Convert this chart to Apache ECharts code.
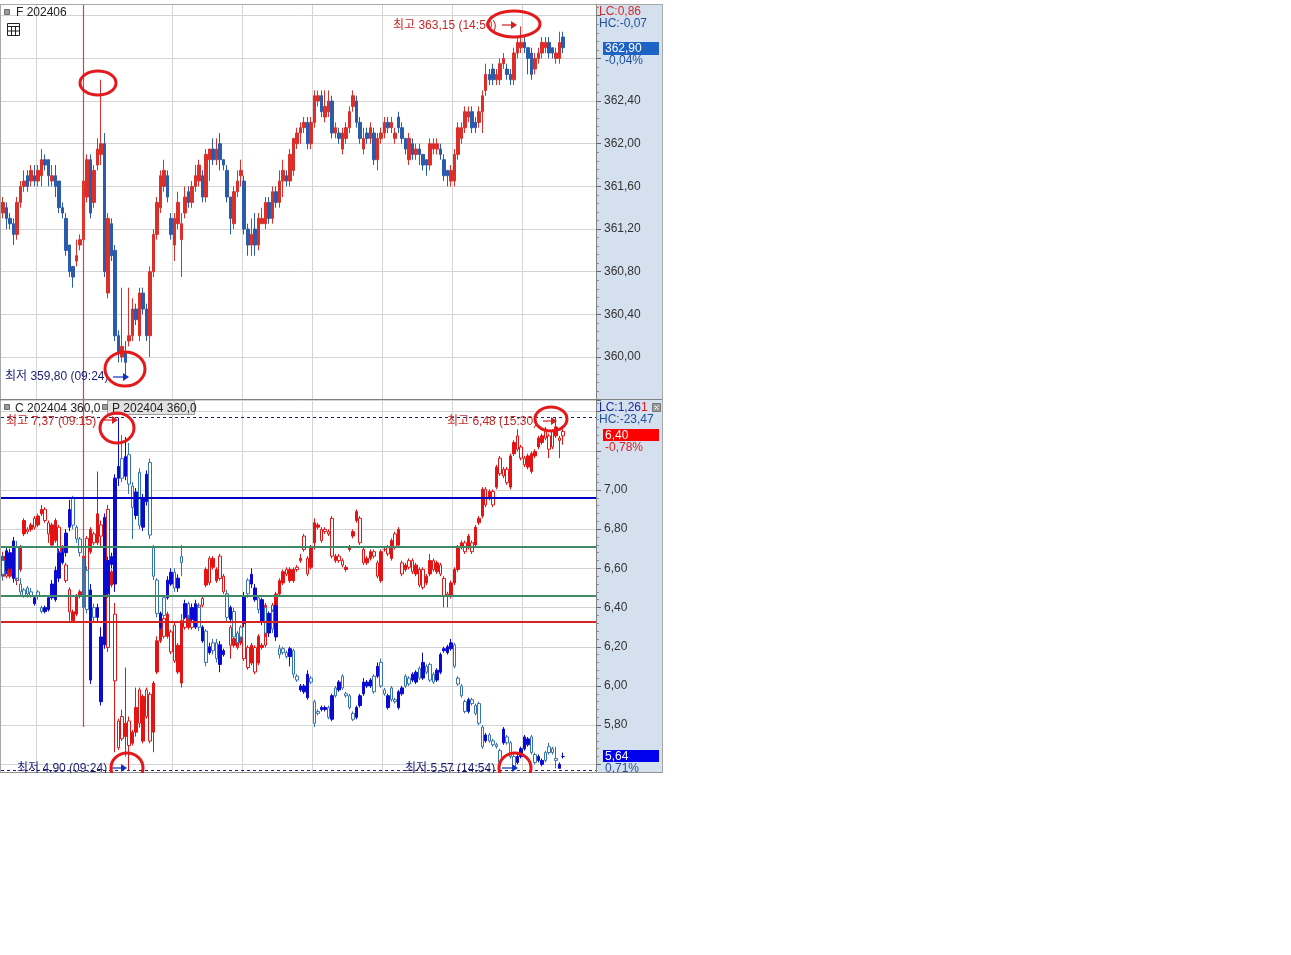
<!DOCTYPE html>
<html><head><meta charset="utf-8">
<script src="https://cdn.jsdelivr.net/npm/echarts@6/dist/echarts.min.js"></script>
<style>html,body{margin:0;padding:0;background:#fff}#c{width:1291px;height:955px}</style>
</head><body><div id="c"></div>
<script>
// ---- data: [open, close, low, high] ----
const futCandles = [
[361.35,361.45,361.30,361.50],[361.40,361.30,361.20,361.45],[361.30,361.25,361.20,361.35],[361.25,361.15,361.05,361.30],
[361.15,361.45,361.10,361.50],[361.45,361.60,361.40,361.65],[361.60,361.65,361.55,361.75],[361.70,361.60,361.55,361.75],
[361.65,361.75,361.60,361.80],[361.70,361.65,361.60,361.80],[361.65,361.75,361.60,361.80],[361.70,361.85,361.60,361.95],
[361.85,361.80,361.75,361.90],[361.85,361.70,361.60,361.85],[361.65,361.70,361.60,361.80],[361.70,361.60,361.50,361.80],
[361.65,361.40,361.35,361.65],[361.40,361.35,361.30,361.45],[361.30,361.00,360.95,361.35],[361.05,360.80,360.75,361.05],
[360.85,360.75,360.65,360.85],[360.90,360.95,360.85,361.10],[361.05,361.10,361.00,361.15],[361.10,361.65,361.05,361.70],
[361.50,361.85,361.45,361.90],[361.85,361.35,361.30,361.90],[361.45,361.75,361.40,361.80],[361.80,361.95,361.75,362.05],
[361.90,362.00,361.80,362.60],[362.00,360.80,360.75,362.10],[360.60,361.30,360.55,361.35],[361.25,360.95,360.90,361.30],
[361.00,360.20,360.15,361.05],[360.20,360.05,359.95,360.25],[360.00,360.10,359.95,360.65],[360.05,359.95,359.80,360.15],
[360.15,360.20,360.10,360.65],[360.20,360.45,360.15,360.55],[360.45,360.35,360.30,360.50],[360.20,360.60,360.15,360.65],
[360.60,360.45,360.40,360.65],[360.45,360.20,360.15,360.50],[360.20,360.80,360.00,360.85],[360.80,361.15,360.75,361.20],
[361.15,361.45,361.10,361.50],[361.40,361.70,361.35,361.75],[361.60,361.75,361.55,361.85],[361.70,361.50,361.45,361.75],
[361.30,361.15,361.10,361.35],[361.05,361.30,360.90,361.35],[361.25,361.45,361.20,361.55],[361.10,361.25,360.75,361.35],
[361.35,361.50,361.30,361.60],[361.55,361.45,361.40,361.60],[361.45,361.60,361.40,361.65],[361.60,361.70,361.55,361.80],
[361.65,361.80,361.60,361.85],[361.70,361.50,361.45,361.75],[361.50,361.90,361.45,361.95],[361.85,361.95,361.65,361.95],
[361.95,361.85,361.80,362.05],[361.85,361.95,361.80,362.05],[362.00,361.85,361.75,362.10],[361.85,361.80,361.75,361.85],
[361.75,361.50,361.45,361.80],[361.50,361.30,361.15,361.50],[361.25,361.55,361.20,361.60],[361.55,361.65,361.50,361.75],
[361.70,361.75,361.60,361.85],[361.65,361.20,361.15,361.70],[361.20,361.05,360.95,361.25],[361.05,361.15,360.95,361.30],
[361.20,361.05,360.95,361.35],[361.05,361.30,361.00,361.35],[361.25,361.30,361.25,361.40],[361.25,361.45,361.20,361.50],
[361.45,361.30,361.25,361.50],[361.30,361.55,361.25,361.60],[361.55,361.45,361.40,361.60],[361.45,361.65,361.40,361.75],
[361.65,361.75,361.50,361.85],[361.70,361.65,361.60,361.75],[361.65,361.90,361.60,361.95],[361.75,362.05,361.70,362.05],
[362.00,362.10,361.95,362.15],[362.10,362.15,362.00,362.20],[362.15,362.20,362.10,362.25],[362.20,362.00,361.95,362.25],
[362.00,362.20,361.95,362.25],[362.20,362.45,362.15,362.50],[362.40,362.45,362.35,362.50],[362.45,362.30,362.25,362.50],
[362.25,362.35,362.20,362.50],[362.30,362.40,362.25,362.50],[362.40,362.10,362.05,362.45],[362.10,362.15,362.05,362.20],
[362.10,362.05,362.00,362.15],[361.95,362.10,361.90,362.15],[362.05,362.15,362.00,362.20],[362.15,362.30,362.10,362.35],
[362.35,362.45,362.30,362.50],[362.40,362.20,362.15,362.45],[362.20,362.05,362.00,362.25],[361.95,362.05,361.90,362.15],
[362.10,362.05,362.00,362.15],[362.05,362.15,362.00,362.20],[362.10,361.85,361.80,362.15],[361.85,362.05,361.75,362.10],
[362.05,362.10,362.00,362.15],[362.10,362.20,362.05,362.25],[362.20,362.15,362.10,362.25],[362.15,362.20,362.10,362.25],
[362.05,362.10,362.00,362.15],[362.25,362.15,362.10,362.30],[362.15,362.05,362.00,362.20],[362.05,361.95,361.90,362.05],
[361.85,362.05,361.80,362.10],[362.00,361.90,361.85,362.05],[361.90,361.95,361.85,362.00],[361.95,361.90,361.80,362.00],
[361.90,361.80,361.75,361.90],[361.85,361.80,361.70,361.85],[361.80,362.00,361.75,362.05],[361.95,362.00,361.90,362.05],
[361.95,362.00,361.90,362.05],[361.95,361.90,361.85,362.00],[361.85,361.70,361.65,361.90],[361.75,361.70,361.60,361.75],
[361.65,361.75,361.60,361.80],[361.65,361.90,361.60,361.95],[361.90,362.15,361.85,362.20],[362.05,362.15,362.00,362.20],
[362.15,362.30,362.10,362.35],[362.25,362.30,362.20,362.35],[362.30,362.15,362.10,362.35],[362.20,362.15,362.10,362.25],
[362.20,362.30,362.15,362.35],[362.30,362.45,362.10,362.50],[362.50,362.65,362.45,362.75],[362.65,362.60,362.55,362.70],
[362.70,362.60,362.55,362.75],[362.60,362.65,362.55,362.70],[362.60,362.75,362.55,362.80],[362.75,362.80,362.70,362.85],
[362.70,362.65,362.60,362.75],[362.65,362.60,362.55,362.70],[362.60,362.85,362.55,362.90],[362.85,362.95,362.80,363.00],
[362.90,362.95,362.85,363.10],[362.95,362.90,362.85,363.00],[362.90,362.80,362.65,362.90],[362.85,362.65,362.60,362.90],
[362.70,362.80,362.65,362.85],[362.80,362.85,362.75,362.90],[362.85,362.95,362.80,363.00],[362.90,362.95,362.85,363.00],
[362.95,362.85,362.80,363.00],[362.90,362.85,362.80,362.90],[362.80,362.85,362.75,362.90],[362.80,362.95,362.75,363.05],
[363.00,362.90,362.85,363.05]
];
const callCandles = [
[5.77,5.86,5.75,5.88],[5.84,5.77,5.76,5.85],[5.77,5.82,5.76,5.83],[5.82,5.76,5.74,5.83],[5.76,5.75,5.73,5.77],
[5.80,5.90,5.79,5.91],[5.96,6.02,5.95,6.03],[5.98,5.97,5.96,5.99],[5.98,6.00,5.97,6.01],[6.03,5.99,5.98,6.04],
[6.00,6.04,5.99,6.05],[6.05,6.07,6.04,6.09],[6.07,6.02,6.01,6.08],[6.01,5.96,5.92,6.02],[5.91,6.00,5.90,6.01],
[5.93,6.02,5.92,6.03],[5.99,5.88,5.87,6.00],[5.85,5.90,5.84,5.91],[5.82,5.75,5.74,5.83],[5.71,5.61,5.57,5.72],
[5.57,5.61,5.56,5.62],[5.60,5.68,5.59,5.69],[5.68,5.70,5.67,5.71],[5.77,5.86,5.76,5.87],[5.94,5.75,5.74,5.95],
[5.88,5.98,5.87,5.99],[5.96,5.92,5.91,5.97],[5.92,6.05,5.91,6.24],[6.00,5.95,5.90,6.02],[5.95,5.90,5.85,5.97],
[6.07,5.45,5.43,6.09],[5.73,5.79,5.72,5.80],[5.60,5.30,4.98,5.65],[5.12,5.00,4.99,5.13],[5.14,5.04,5.03,5.17],
[5.05,5.11,4.96,5.36],[5.12,5.01,4.90,5.14],[5.02,5.07,5.01,5.08],[5.07,5.18,5.05,5.27],[5.26,5.11,5.09,5.27],
[5.03,5.23,5.02,5.24],[5.26,5.14,5.13,5.27],[5.24,5.03,5.02,5.25],[5.07,5.29,4.98,5.30],[5.34,5.48,5.33,5.50],
[5.48,5.58,5.47,5.59],[5.58,5.50,5.49,5.59],[5.50,5.60,5.49,5.61],[5.52,5.43,5.42,5.53],[5.55,5.39,5.38,5.56],
[5.34,5.46,5.33,5.47],[5.29,5.57,5.27,5.60],[5.60,5.54,5.53,5.61],[5.54,5.63,5.53,5.64],[5.62,5.54,5.53,5.63],
[5.55,5.62,5.54,5.63],[5.64,5.58,5.57,5.65],[5.67,5.64,5.63,5.68],[5.73,5.80,5.72,5.81],[5.85,5.74,5.73,5.86],
[5.81,5.85,5.80,5.86],[5.75,5.80,5.74,5.81],[5.86,5.76,5.75,5.87],[5.77,5.70,5.69,5.78],[5.69,5.60,5.59,5.70],
[5.54,5.46,5.40,5.55],[5.46,5.49,5.45,5.50],[5.50,5.45,5.44,5.51],[5.47,5.52,5.46,5.53],[5.56,5.40,5.39,5.57],
[5.45,5.36,5.35,5.46],[5.38,5.46,5.37,5.47],[5.45,5.34,5.33,5.46],[5.38,5.50,5.37,5.51],[5.45,5.46,5.44,5.47],
[5.64,5.46,5.45,5.65],[5.53,5.59,5.52,5.60],[5.64,5.54,5.53,5.65],[5.64,5.69,5.63,5.70],[5.69,5.75,5.68,5.76],
[5.74,5.79,5.73,5.80],[5.80,5.78,5.77,5.81],[5.75,5.80,5.74,5.81],[5.75,5.80,5.74,5.81],[5.81,5.80,5.79,5.82],
[5.84,5.85,5.83,5.87],[5.95,5.89,5.88,5.96],[5.85,5.78,5.77,5.86],[5.81,5.90,5.80,5.91],[5.92,6.01,5.89,6.03],
[5.99,6.00,5.98,6.01],[5.98,5.93,5.92,5.99],[5.98,5.97,5.96,5.99],[5.97,5.96,5.95,5.98],[6.03,5.86,5.85,6.04],
[5.84,5.86,5.83,5.87],[5.86,5.84,5.83,5.87],[5.84,5.82,5.81,5.85],[5.80,5.81,5.79,5.82],[5.89,5.90,5.88,5.91],
[5.95,5.97,5.94,5.98],[6.02,6.06,6.01,6.07],[6.03,5.92,5.91,6.04],[5.89,5.83,5.82,5.90],[5.83,5.85,5.82,5.86],
[5.85,5.88,5.84,5.89],[5.88,5.86,5.85,5.89],[5.83,5.77,5.76,5.84],[5.75,5.88,5.74,5.89],[5.89,5.89,5.88,5.90],
[5.90,5.87,5.86,5.91],[5.85,5.93,5.84,5.94],[5.96,5.90,5.89,5.97],[5.91,5.98,5.90,5.99],[5.83,5.78,5.77,5.84],
[5.80,5.82,5.79,5.83],[5.84,5.81,5.80,5.85],[5.84,5.79,5.78,5.85],[5.78,5.82,5.77,5.83],[5.80,5.73,5.72,5.81],
[5.80,5.72,5.71,5.81],[5.74,5.77,5.73,5.78],[5.78,5.84,5.77,5.87],[5.84,5.80,5.79,5.85],[5.79,5.83,5.78,5.84],
[5.82,5.78,5.77,5.83],[5.76,5.68,5.63,5.77],[5.69,5.68,5.63,5.70],[5.68,5.74,5.67,5.75],[5.74,5.80,5.73,5.81],
[5.80,5.90,5.79,5.91],[5.90,5.92,5.89,5.93],[5.92,5.88,5.87,5.93],[5.90,5.95,5.89,5.96],[5.92,5.88,5.87,5.93],
[5.91,5.99,5.90,6.00],[6.01,6.03,6.00,6.04],[6.04,6.16,6.03,6.17],[6.16,6.09,6.08,6.17],[6.12,6.15,6.11,6.16],
[6.15,6.09,6.08,6.16],[6.17,6.26,6.16,6.27],[6.30,6.23,6.22,6.31],[6.25,6.22,6.21,6.26],[6.25,6.19,6.18,6.26],
[6.17,6.31,6.16,6.32],[6.32,6.37,6.31,6.38],[6.40,6.34,6.33,6.43],[6.35,6.30,6.29,6.36],[6.30,6.27,6.26,6.31],
[6.26,6.31,6.25,6.32],[6.24,6.32,6.23,6.33],[6.31,6.33,6.30,6.34],[6.35,6.39,6.34,6.40],[6.37,6.40,6.36,6.41],
[6.43,6.39,6.38,6.44],[6.40,6.34,6.30,6.41],[6.42,6.35,6.34,6.43],[6.40,6.44,6.39,6.48],[6.39,6.38,6.30,6.40],
[6.42,6.40,6.36,6.43]
];
const putCandles = [
[6.64,6.57,6.54,6.67],[6.59,6.69,6.57,6.71],[6.60,6.68,6.58,6.70],[6.55,6.74,6.53,6.76],[6.71,6.55,6.53,6.74],
[6.52,6.48,6.46,6.55],[6.49,6.46,6.45,6.50],[6.50,6.47,6.45,6.51],[6.48,6.46,6.45,6.50],[6.42,6.45,6.41,6.46],
[6.48,6.46,6.44,6.49],[6.40,6.38,6.37,6.41],[6.38,6.40,6.37,6.41],[6.39,6.45,6.38,6.46],[6.45,6.52,6.44,6.54],
[6.44,6.59,6.43,6.61],[6.55,6.68,6.53,6.70],[6.63,6.68,6.62,6.70],[6.68,6.78,6.66,6.80],[6.81,6.90,6.79,6.95],
[6.96,6.82,6.80,6.97],[6.81,6.75,6.73,6.82],[6.75,6.68,6.66,6.76],[6.65,6.40,6.38,6.66],[6.59,6.39,6.37,6.61],
[6.03,6.49,6.01,6.52],[6.40,6.35,6.33,6.42],[6.35,6.40,6.33,6.42],[5.92,6.25,5.90,6.30],[6.21,6.86,6.19,6.88],
[6.47,6.64,6.45,6.66],[6.62,6.66,6.60,6.68],[6.52,7.06,6.48,7.08],[7.06,7.12,7.02,7.37],[7.16,7.06,7.04,7.28],
[7.07,7.17,7.05,7.27],[7.18,7.03,6.98,7.24],[7.02,6.91,6.75,7.04],[6.87,6.99,6.85,7.01],[7.09,6.82,6.80,7.11],
[6.81,6.96,6.79,6.98],[6.94,7.08,6.92,7.10],[7.14,6.77,6.75,7.16],[6.71,6.56,6.54,6.72],[6.54,6.37,6.35,6.55],
[6.30,6.37,6.29,6.38],[6.45,6.36,6.34,6.46],[6.45,6.54,6.44,6.56],[6.52,6.58,6.51,6.60],[6.58,6.50,6.48,6.60],
[6.50,6.55,6.48,6.57],[6.66,6.63,6.56,6.72],[6.35,6.42,6.34,6.44],[6.42,6.36,6.34,6.43],[6.34,6.40,6.33,6.42],
[6.30,6.42,6.29,6.44],[6.40,6.30,6.28,6.42],[6.23,6.30,6.22,6.31],[6.28,6.12,6.10,6.29],[6.17,6.20,6.16,6.22],
[6.22,6.18,6.16,6.24],[6.22,6.14,6.12,6.24],[6.11,6.21,6.07,6.23],[6.16,6.18,6.15,6.19],[6.47,6.35,6.33,6.49],
[6.34,6.40,6.32,6.41],[6.38,6.25,6.23,6.40],[6.27,6.22,6.20,6.28],[6.30,6.25,6.23,6.31],[6.32,6.46,6.30,6.48],
[6.54,6.47,6.45,6.55],[6.52,6.57,6.50,6.60],[6.44,6.50,6.43,6.52],[6.45,6.39,6.37,6.46],[6.33,6.44,6.31,6.45],
[6.40,6.27,6.25,6.41],[6.27,6.37,6.25,6.38],[6.38,6.29,6.27,6.39],[6.25,6.41,6.23,6.43],[6.19,6.16,6.14,6.21],
[6.19,6.17,6.16,6.20],[6.17,6.15,6.14,6.18],[6.15,6.19,6.10,6.20],[6.18,6.06,6.04,6.19],[6.05,6.03,6.02,6.06],
[5.98,6.00,5.97,6.01],[5.97,6.00,5.96,6.01],[5.94,6.06,5.93,6.08],[6.04,6.02,6.01,6.05],[5.92,5.81,5.79,5.93],
[5.87,5.86,5.85,5.88],[5.88,5.89,5.87,5.90],[5.88,5.89,5.87,5.90],[5.89,5.84,5.83,5.90],[5.83,5.95,5.82,5.96],
[5.99,5.95,5.94,6.00],[5.98,6.02,5.97,6.03],[6.05,5.99,5.98,6.06],[5.96,5.95,5.94,5.97],[5.95,5.89,5.88,5.96],
[5.86,5.83,5.82,5.87],[5.84,5.89,5.83,5.90],[5.90,5.95,5.89,5.96],[5.96,6.02,5.95,6.04],[6.00,6.02,5.99,6.03],
[6.00,6.03,5.99,6.04],[6.05,5.97,5.96,6.06],[6.05,6.10,6.04,6.12],[6.12,6.00,5.99,6.14],[5.98,5.96,5.95,5.99],
[5.89,5.95,5.88,5.96],[5.99,5.93,5.92,6.00],[5.93,5.92,5.91,5.94],[5.89,5.97,5.88,5.98],[5.96,5.99,5.95,6.00],
[6.05,6.00,5.99,6.06],[6.04,6.01,6.00,6.05],[6.03,6.06,6.02,6.07],[6.02,6.07,6.01,6.08],[6.09,6.04,6.03,6.10],
[6.04,6.12,6.03,6.17],[6.10,6.07,6.06,6.11],[6.11,6.03,6.02,6.12],[6.06,6.02,6.01,6.07],[6.03,6.08,6.02,6.09],
[6.07,6.16,6.06,6.17],[6.18,6.19,6.17,6.20],[6.17,6.20,6.16,6.21],[6.19,6.22,6.18,6.24],[6.21,6.10,6.09,6.22],
[6.04,6.01,6.00,6.05],[6.00,5.95,5.94,6.01],[5.92,5.87,5.86,5.93],[5.87,5.93,5.86,5.94],[5.93,5.91,5.90,5.94],
[5.90,5.86,5.85,5.91],[5.91,5.81,5.80,5.92],[5.79,5.69,5.68,5.80],[5.72,5.75,5.71,5.76],[5.75,5.72,5.71,5.76],
[5.72,5.70,5.69,5.73],[5.70,5.69,5.68,5.71],[5.67,5.61,5.60,5.68],[5.71,5.78,5.70,5.79],[5.74,5.71,5.70,5.75],
[5.71,5.64,5.63,5.72],[5.64,5.59,5.57,5.65],[5.61,5.64,5.60,5.66],[5.64,5.68,5.63,5.69],[5.68,5.74,5.67,5.75],
[5.70,5.73,5.69,5.74],[5.74,5.66,5.65,5.75],[5.65,5.61,5.60,5.66],[5.62,5.64,5.61,5.65],[5.60,5.62,5.59,5.63],
[5.66,5.62,5.61,5.67],[5.69,5.66,5.65,5.71],[5.68,5.66,5.65,5.69],[5.63,5.62,5.58,5.69],[5.58,5.60,5.58,5.61],
[5.64,5.64,5.63,5.66]
];
const slotCount = 170;          // time slots on the x axis (data + empty tail)
const dayStartIdx = 23;         // 08:45 session start
const timeGridIdx = [10, 49, 69, 89, 109, 129, 149];
const putLevels = [
  {v: 6.965, color: '#0000c8'},
  {v: 6.705, color: '#3f8a66'},
  {v: 6.455, color: '#3f8a66'},
  {v: 6.327, color: '#d82222'}
];
const putHigh = 7.37, putLow = 5.57;
const categories = [];
for (let i = 0; i < slotCount; i++) {
  const m = i >= dayStartIdx ? 525 + (i - dayStartIdx) * 3 : 945 - (dayStartIdx - i) * 3;
  const t = String(Math.floor(m / 60)).padStart(2, '0') + ':' + String(m % 60).padStart(2, '0');
  categories.push(i >= dayStartIdx ? t : 'D-1 ' + t);
}

const FF = "'Liberation Sans','Noto Sans CJK KR',sans-serif";
const FONT = "12px " + FF;
const fmtComma = v => v.toFixed(2).replace('.', ',');
const near = (v, step) => Math.abs(v / step - Math.round(v / step)) < 0.01;
const DAYLINE = '#e03c3c';

const chart = echarts.init(document.getElementById('c'));
const xAx = gi => ({
  type: 'category', gridIndex: gi, data: categories, boundaryGap: true,
  axisLine: {show: false}, axisTick: {show: false}, axisLabel: {show: false},
  splitLine: {show: true, interval: idx => timeGridIdx.includes(idx), lineStyle: {color: '#d4d4d4', width: 1}}
});
const yCommon = {
  type: 'value', position: 'right',
  axisLine: {show: true, onZero: false, lineStyle: {color: '#808080'}},
  axisTick: {show: true, length: 5, lineStyle: {color: '#6a6a6a'}},
  minorTick: {show: true, splitNumber: 5, length: 3, lineStyle: {color: '#8a8a8a'}},
  splitLine: {show: true, lineStyle: {color: '#d4d4d4', width: 1}},
  minorSplitLine: {show: false}
};
const lbl = {color: '#333', fontSize: 12, fontFamily: FF, margin: 8, padding: [2, 0, 0, 0]};

const G = [];
const txt = (x, y, text, fill, extra) => G.push(Object.assign({type: 'text', x, y: y + 1, z: 100,
  style: {text, fill, font: FONT, textAlign: 'left', textVerticalAlign: 'middle', align: 'left', verticalAlign: 'middle'}}, extra || {}));
const ln = (x1, y1, x2, y2, stroke, w, z) => G.push({type: 'line', z: z == null ? 90 : z, shape: {x1, y1, x2, y2}, style: {stroke, lineWidth: w || 1}});
const rc = (x, y, w, h, fill, stroke, z) => G.push({type: 'rect', z: z == null ? 95 : z, shape: {x, y, width: w, height: h}, style: {fill, stroke: stroke || null, lineWidth: 1}});
const ell = (cx, cy, rx, ry) => G.push({type: 'ellipse', z: 120, shape: {cx, cy, rx, ry}, style: {fill: 'none', stroke: '#e3191c', lineWidth: 3}});
const arrow = (x1, x2, y, color) => { ln(x1, y, x2 - 5, y, color, 1.2, 110);
  G.push({type: 'polygon', z: 110, shape: {points: [[x2 - 6, y - 4], [x2, y], [x2 - 6, y + 4]]}, style: {fill: color}}); };

// right value strips
rc(597, 4.5, 65, 395, '#d5e0ef', null, -5);
rc(597, 400, 65, 372, '#d5e0ef', null, -5);
// frame
ln(0, 4.5, 662, 4.5, '#a8a8a8', 1, 80);
ln(0.5, 4, 0.5, 772, '#a8a8a8', 1, 80);
ln(662.5, 4, 662.5, 773, '#a8a8a8', 1, 80);
ln(0, 399.5, 662, 399.5, '#808080', 1, 80);
ln(0, 772.5, 662, 772.5, '#909090', 1, 80);
// top header
rc(4.5, 9.5, 5, 5, '#9c9c9c', '#6a6a6a');
txt(16, 12, 'F 202406', '#222');
rc(7.5, 23.5, 12, 12, '#ffffff', '#222');
ln(7.5, 26.5, 19.5, 26.5, '#222', 1, 96); ln(11.5, 26.5, 11.5, 35.5, '#222', 1, 96); ln(15.5, 26.5, 15.5, 35.5, '#222', 1, 96);
ln(7.5, 31, 19.5, 31, '#222', 1, 96);
// top strip texts
txt(599, 11, 'LC:0,86', '#d42a2a');
txt(599, 23, 'HC:-0,07', '#2050a0');
rc(603, 42, 56, 13, '#1d62c5', null);
txt(605, 48, '362,90', '#ffffff');
txt(605, 60, '-0,04%', '#2050a0');
// top annotations
txt(393, 25, '최고 363,15 (14:50)', '#c62828');
arrow(502, 517, 25, '#d42020');
ell(514, 24, 26, 13);
ell(98, 83, 18, 12);
txt(5, 376, '최저 359,80 (09:24)', '#1c1c78');
arrow(113, 129, 377, '#1030c0');
ell(125, 369, 20, 17);
// bottom header
rc(4.5, 404.5, 5, 5, '#9c9c9c', '#6a6a6a');
txt(15, 408, 'C 202404 360,0', '#222');
rc(107.5, 400.5, 87, 14, '#e2e2e2', '#9c9c9c', 94);
rc(102.5, 404.5, 5, 5, '#9c9c9c', '#6a6a6a', 96);
txt(112, 408, 'P 202404 360,0', '#222');
// bottom strip texts
G.push({type: 'text', x: 599, y: 408, z: 100, style: {text: '{a|LC:1,26}{b|1}', font: FONT, textVerticalAlign: 'middle', verticalAlign: 'middle',
  rich: {a: {fill: '#1c2a9a', font: FONT}, b: {fill: '#e02020', font: FONT}}}});
txt(599, 419, 'HC:-23,47', '#2050a0');
rc(652.5, 403.5, 8, 8, '#9a9a9a', '#777');
ln(654.5, 405.5, 658.5, 409.5, '#fff', 1, 96); ln(658.5, 405.5, 654.5, 409.5, '#fff', 1, 96);
rc(603, 429, 56, 12, '#ff0000', null);
txt(605, 434.5, '6,40', '#ffffff');
txt(605, 447, '-0,78%', '#e02020');
rc(603, 750, 56, 12, '#0000ee', null);
txt(605, 755.5, '5,64', '#ffffff');
txt(605, 768, '0,71%', '#2050a0');
// bottom annotations
txt(6, 421, '최고 7,37 (09:15)', '#c62828');
arrow(103, 118, 420, '#d42020');
ell(117, 428, 17, 15);
txt(447, 421, '최고 6,48 (15:30)', '#c62828');
arrow(543, 557, 421, '#d42020');
ell(551, 419, 16, 12);
txt(17, 768, '최저 4,90 (09:24)', '#1c1c78');
arrow(111, 127, 768, '#1030c0');
ell(127, 768, 16, 15);
txt(405, 768, '최저 5,57 (14:54)', '#1c1c78');
arrow(502, 518, 768, '#1030c0');
ell(515, 768, 16, 15);
// blank below the chart window
rc(0, 773, 1291, 182, '#ffffff', null, 200);

const dayLineStyle = {color: DAYLINE, width: 1.2, type: 'solid', opacity: 1};
chart.setOption({
  animation: false,
  backgroundColor: '#ffffff',
  grid: [{left: 1, top: 4, width: 595, height: 395.7}, {left: 1, top: 400, width: 595, height: 372}],
  xAxis: [xAx(0), xAx(1)],
  yAxis: [
    Object.assign({}, yCommon, {gridIndex: 0, min: 359.6, max: 363.31, interval: 0.4,
      axisLabel: Object.assign({}, lbl, {formatter: v => (!near(v, 0.4) || Math.abs(v - 362.8) < 0.01 || Math.abs(v - 363.2) < 0.01 || Math.abs(v - 359.6) < 0.01) ? '' : fmtComma(v)})}),
    Object.assign({}, yCommon, {gridIndex: 1, min: 5.561, max: 7.459, splitNumber: 10,
      axisLabel: Object.assign({}, lbl, {formatter: v => (!near(v, 0.2) || [7.4, 7.2, 5.6].some(t => Math.abs(v - t) < 0.001)) ? '' : fmtComma(v)})}),
    {type: 'value', gridIndex: 1, min: 4.891, max: 6.561, show: false, splitLine: {show: false}}
  ],
  series: [
    {type: 'line', name: 'session start (top)', xAxisIndex: 0, yAxisIndex: 0, data: [], silent: true, color: DAYLINE,
     markLine: {silent: true, symbol: 'none', animation: false, label: {show: false}, lineStyle: dayLineStyle,
       data: [{xAxis: dayStartIdx, lineStyle: dayLineStyle}]}},
    {type: 'candlestick', name: 'F 202406', xAxisIndex: 0, yAxisIndex: 0, data: futCandles, barWidth: 3, silent: true,
     itemStyle: {color: '#dc2f2a', color0: '#2b5cab', borderColor: '#dc2f2a', borderColor0: '#2b5cab', borderWidth: 1}},
    {type: 'line', name: 'session start (bottom)', xAxisIndex: 1, yAxisIndex: 1, data: [], silent: true, color: DAYLINE,
     markLine: {silent: true, symbol: 'none', animation: false, label: {show: false}, lineStyle: dayLineStyle,
       data: [[{coord: [dayStartIdx, 7.459], lineStyle: dayLineStyle}, {coord: [dayStartIdx, 5.791]}]]}},
    {type: 'candlestick', name: 'C 202404 360,0', xAxisIndex: 1, yAxisIndex: 2, data: callCandles, barWidth: 3, silent: true,
     itemStyle: {color: '#e41414', color0: '#ffffff', borderColor: '#e41414', borderColor0: '#e41414', borderWidth: 1}},
    {type: 'candlestick', name: 'P 202404 360,0', xAxisIndex: 1, yAxisIndex: 1, data: putCandles, barWidth: 3, silent: true,
     itemStyle: {color: '#0a0ad2', color0: '#ffffff', borderColor: '#0a0ad2', borderColor0: '#3574ac', borderWidth: 1},
     markLine: {silent: true, symbol: 'none', animation: false, label: {show: false},
       data: putLevels.map(l => ({yAxis: l.v, lineStyle: {color: l.color, width: 2, type: 'solid'}}))
         .concat([
           {yAxis: putHigh, lineStyle: {color: '#22226e', width: 1, type: [3, 3]}},
           {yAxis: putLow, lineStyle: {color: '#22226e', width: 1, type: [3, 3]}}
         ])}}
  ],
  graphic: {elements: G}
});
</script></body></html>
